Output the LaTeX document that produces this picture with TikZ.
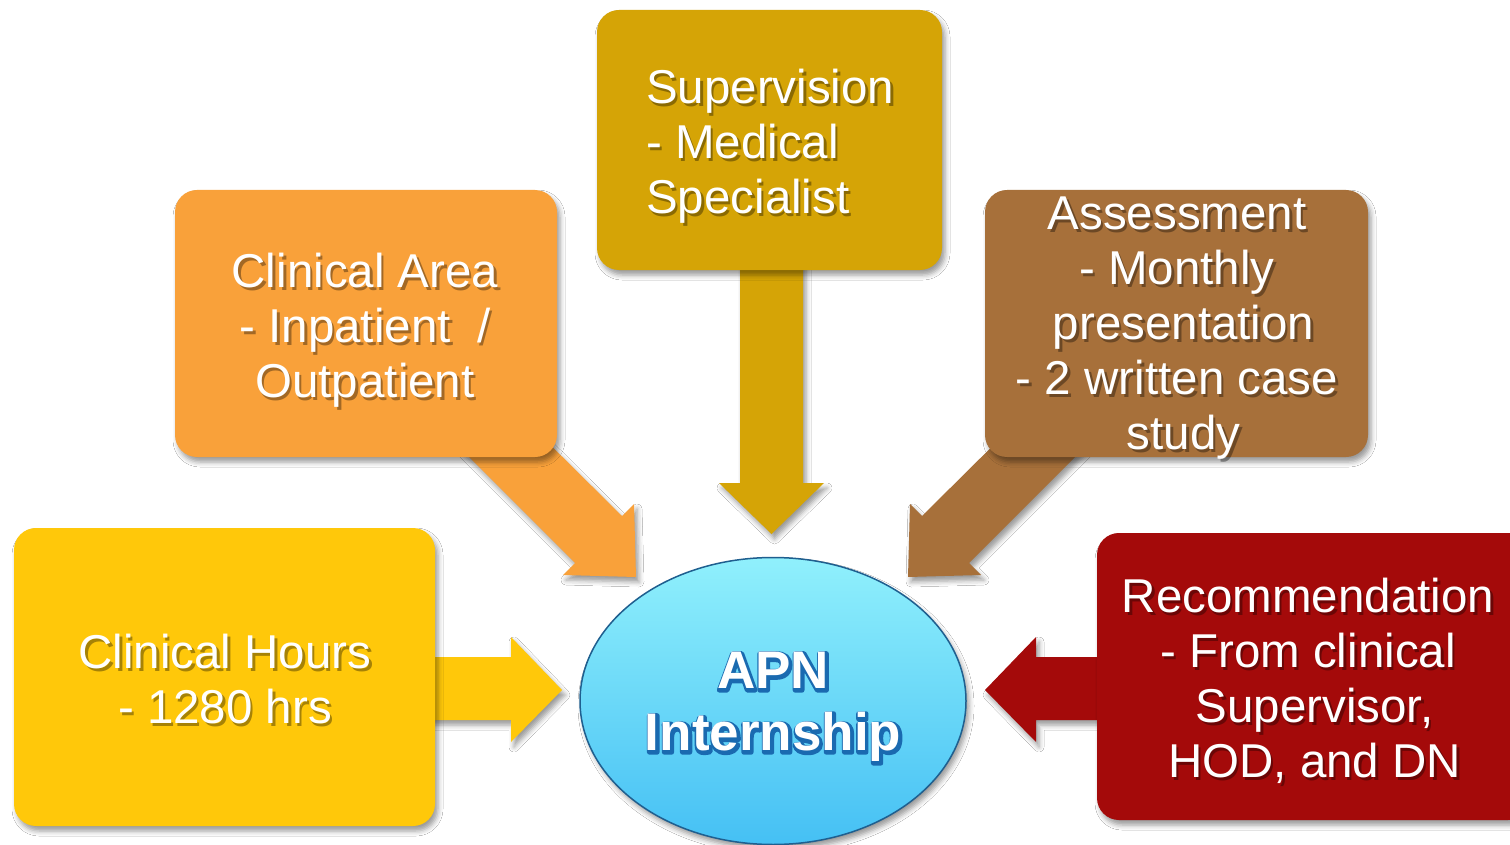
\documentclass[tikz,border=0pt]{standalone}
\usepackage{fontspec}
\setmainfont{Liberation Sans}
\usetikzlibrary{shadows.blur,shapes.geometric}
\definecolor{cHours}{HTML}{FFC80A}
\definecolor{cArea}{HTML}{F9A13A}
\definecolor{cSup}{HTML}{D5A406}
\definecolor{cAss}{HTML}{A7703A}
\definecolor{cRec}{HTML}{A40A0A}
\definecolor{cTop}{HTML}{90F0FC}
\definecolor{cBot}{HTML}{45C0F4}
\definecolor{cEdge}{HTML}{1F5F8F}
\definecolor{cApnEdge}{HTML}{1A6AB0}
\newcommand\shlabel[4]{%
  \node[txt,#3,text=black,opacity=.35] (#1-sh) at ([shift={(2.5,2.5)}]#2) {#4};
  \node[txt,#3] (#1) at (#2) {#4};}
\newcommand\apnedge[1]{\special{pdf:literal direct 2 Tr 5 w 1 j 0.102 0.416 0.690 RG}#1\special{pdf:literal direct 0 Tr}}
\begin{document}
\begin{tikzpicture}[x=1pt,y=-1pt,
  sh/.style={blur shadow={shadow xshift=3pt,shadow yshift=-5pt,shadow blur radius=5pt,shadow opacity=40}},
  box/.style={sh,rectangle,rounded corners=22pt,inner sep=0pt},
  barrow/.style={sh,line join=miter},
  txt/.style={inner sep=0pt,text=white,font=\fontsize{47.5pt}{55pt}\selectfont},
  apntxt/.style={inner sep=0pt,align=center,font=\bfseries\fontsize{53pt}{62pt}\selectfont}]
\fill[white] (0,0) rectangle (1510,845);
\useasboundingbox (0,0) rectangle (1510,845);

% block arrows (behind the boxes)
\coordinate (h1) at (400,657); \coordinate (h2) at (511,657); \coordinate (h3) at (511,637);
\coordinate (h4) at (562,690); \coordinate (h5) at (511,742); \coordinate (h6) at (511,720);
\coordinate (h7) at (400,720);
\fill[barrow,cHours] (h1) -- (h2) -- (h3) -- (h4) -- (h5) -- (h6) -- (h7) -- cycle;

\coordinate (r1) at (1120,657); \coordinate (r2) at (1036,657); \coordinate (r3) at (1036,637);
\coordinate (r4) at (985,690); \coordinate (r5) at (1036,742); \coordinate (r6) at (1036,720);
\coordinate (r7) at (1120,720);
\fill[barrow,cRec] (r1) -- (r2) -- (r3) -- (r4) -- (r5) -- (r6) -- (r7) -- cycle;

\coordinate (s1) at (740,240); \coordinate (s2) at (740,483); \coordinate (s3) at (719,483);
\coordinate (s4) at (771.5,534); \coordinate (s5) at (824,483); \coordinate (s6) at (803,483);
\coordinate (s7) at (803,240);
\fill[barrow,cSup] (s1) -- (s2) -- (s3) -- (s4) -- (s5) -- (s6) -- (s7) -- cycle;

\coordinate (a1) at (503,398); \coordinate (a2) at (622,516); \coordinate (a3) at (634,504);
\coordinate (a4) at (636,577); \coordinate (a5) at (563,575); \coordinate (a6) at (575,563);
\coordinate (a7) at (457,445);
\fill[barrow,cArea] (a1) -- (a2) -- (a3) -- (a4) -- (a5) -- (a6) -- (a7) -- cycle;

\coordinate (b1) at (1041,398); \coordinate (b2) at (922,516); \coordinate (b3) at (910,504);
\coordinate (b4) at (908,577); \coordinate (b5) at (981,575); \coordinate (b6) at (969,563);
\coordinate (b7) at (1087,445);
\fill[barrow,cAss] (b1) -- (b2) -- (b3) -- (b4) -- (b5) -- (b6) -- (b7) -- cycle;

% boxes
\node[box,fill=cHours,minimum width=421pt,minimum height=298pt] (hours) at (224.5,677) {};
\node[box,fill=cArea,minimum width=382pt,minimum height=267pt] (area) at (366,323.5) {};
\node[box,fill=cSup,minimum width=345pt,minimum height=260pt] (sup) at (769.5,140) {};
\node[box,fill=cAss,minimum width=383pt,minimum height=267pt] (ass) at (1176.5,323.5) {};
\node[box,fill=cRec,minimum width=433pt,minimum height=287pt] (rec) at (1313.5,676.5) {};

% central ellipse
\node[sh,ellipse,draw=cEdge,line width=1.5pt,top color=cTop,bottom color=cBot,
      minimum width=386pt,minimum height=287pt,inner sep=0pt] (apn) at (773,701) {};

% texts
\shlabel{thours}{225,634}{anchor=north,align=center}{Clinical Hours\\- 1280 hrs}
\shlabel{tarea}{365,253}{anchor=north,align=center}{Clinical Area\\- Inpatient~ /\\Outpatient}
\shlabel{tsup}{646,69}{anchor=north west,align=left}{Supervision\\- Medical\\Specialist}
\shlabel{tass}{1177,197}{anchor=north,align=center}{Assessment\\- Monthly\\~presentation\\- 2 written case\\~study}
\shlabel{trec}{1308,578}{anchor=north,align=center}{Recommendation\\- From clinical\\~Supervisor,\\~HOD, and DN}

\node[apntxt,anchor=north,text=cApnEdge] (apn-sh) at (774,653.5) {\apnedge{APN}\\\apnedge{Internship}};
\node[apntxt,anchor=north,text=white] (apn-t) at (773,652) {APN\\Internship};
\end{tikzpicture}
\end{document}
